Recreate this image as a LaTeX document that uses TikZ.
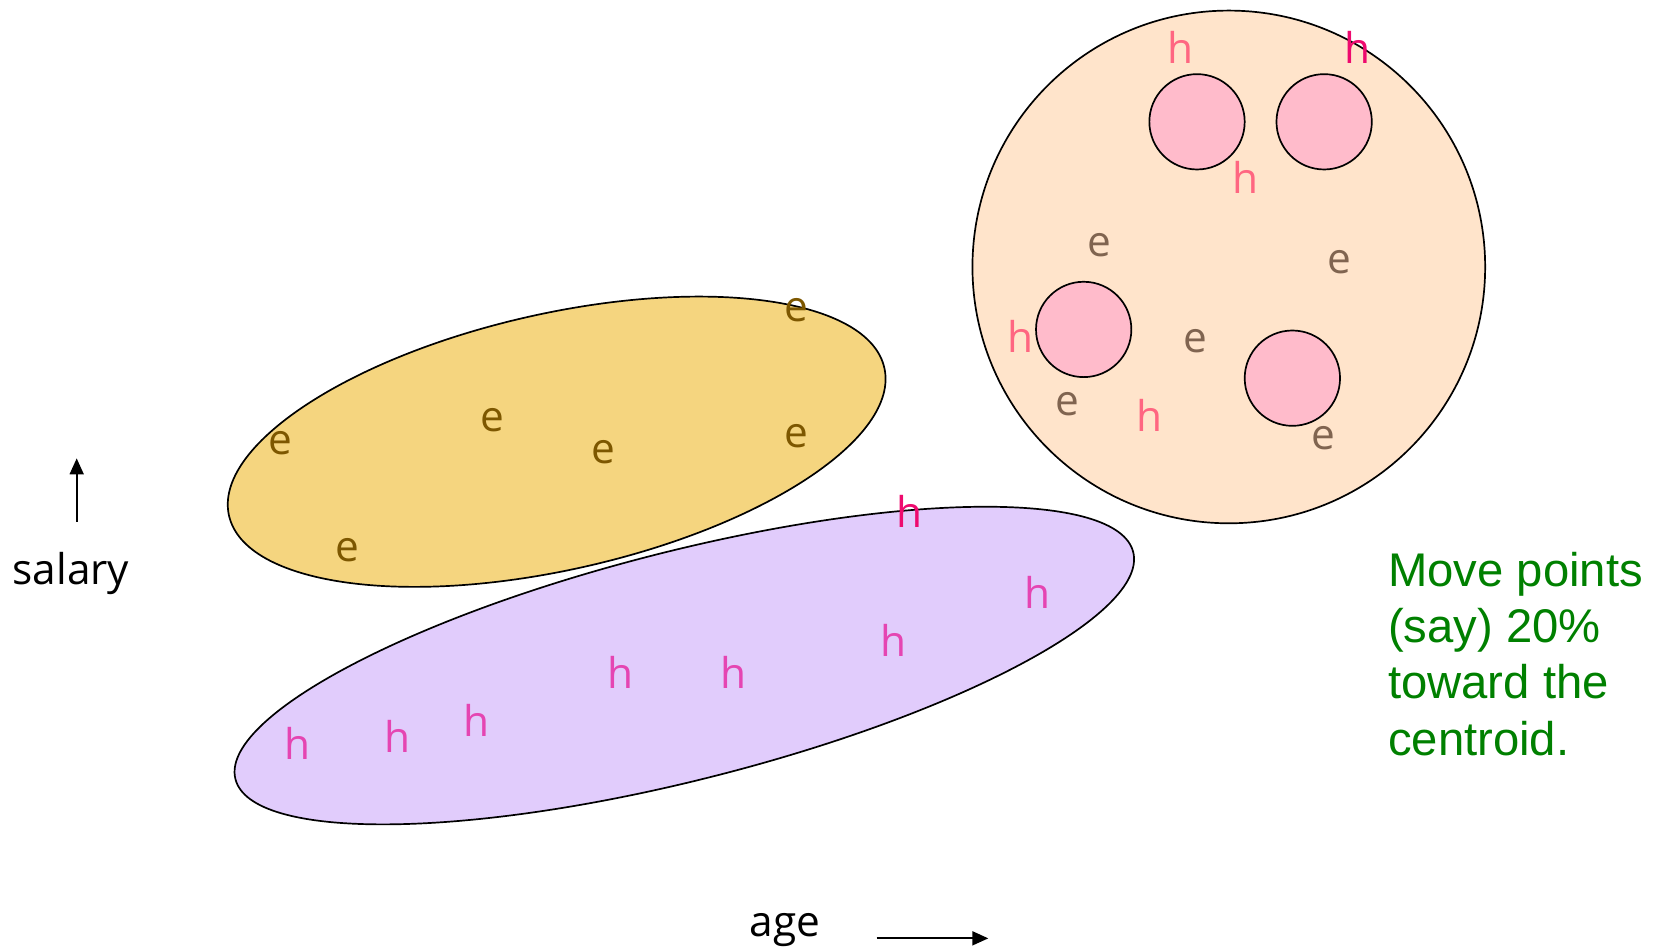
\documentclass[tikz,border=0pt]{standalone}
\usepackage{fontspec}
\newfontfamily\lblfont{Open Sans}
\newfontfamily\notefont{Liberation Sans}
\usetikzlibrary{arrows.meta}
\definecolor{peach}{HTML}{FFE4CB}
\definecolor{pinkfill}{HTML}{FFBBCB}
\definecolor{yellowfill}{HTML}{F5D57F}
\definecolor{lavender}{HTML}{E1CCFC}
\definecolor{ebrown}{HTML}{7D5700}
\definecolor{egrey}{HTML}{806450}
\definecolor{hsalmon}{HTML}{FF6681}
\definecolor{hmag}{HTML}{E545B2}
\definecolor{hred}{HTML}{EE0A6E}
\definecolor{notegreen}{HTML}{008000}
\begin{document}
\begin{tikzpicture}[x=0.5pt,y=-0.5pt,
  lbl/.style={inner sep=0pt, font=\lblfont\fontsize{20}{24}\selectfont},
  ey/.style={lbl, text=ebrown},
  ec/.style={lbl, text=egrey},
  hc/.style={lbl, text=hsalmon},
  hp/.style={lbl, text=hmag},
  hr/.style={lbl, text=hred},
  blob/.style={draw=black, line width=0.8pt},
  arr/.style={line width=1pt, -{Triangle[length=7.5pt,width=6.5pt]}}]

\useasboundingbox (0,0) rectangle (1568,897);

% big cluster
\draw[blob, fill=peach] (1160,252) circle [radius=242];
\draw[blob, fill=pinkfill] (1130,115) circle [radius=45];
\draw[blob, fill=pinkfill] (1250,115) circle [radius=45];
\draw[blob, fill=pinkfill] (1023,311) circle [radius=45];
\draw[blob, fill=pinkfill] (1220,357) circle [radius=45];

\node[hc] (ch1) at (1114.6,44.8) {h};
\node[hr] (ch2) at (1281.6,45.1) {h};
\node[hc] (ch3) at (1175.8,167.8) {h};
\node[hc] (ch4) at (963.6,317.6) {h};
\node[hc] (ch5) at (1084.7,392.6) {h};
\node[ec] (ce1) at (1037.5,231.6) {e};
\node[ec] (ce2) at (1264.6,247.5) {e};
\node[ec] (ce3) at (1128.6,322.4) {e};
\node[ec] (ce4) at (1007.5,381.4) {e};
\node[ec] (ce5) at (1249,413.3) {e};

% yellow ellipse
\draw[blob, fill=yellowfill, shift={(525.5,417)}, rotate=12.7] (0,0) ellipse [x radius=317.1, y radius=120.9];
\node[ey] (ye1) at (751.5,292.6) {e};
\node[ey] (ye2) at (265,418.5) {e};
\node[ey] (ye3) at (464.4,396.5) {e};
\node[ey] (ye4) at (570,426.4) {e};
\node[ey] (ye5) at (751.5,412.2) {e};
\node[ey] (ye6) at (327.6,519.2) {e};

% purple ellipse
\draw[blob, fill=lavender, shift={(646,628.3)}, rotate=14.2] (0,0) ellipse [x radius=437.1, y radius=108.1];
\node[hr] (ph1) at (858.5,483) {h};
\node[hp] (ph2) at (979.2,559.5) {h};
\node[hp] (ph3) at (843.5,604.2) {h};
\node[hp] (ph4) at (586,635) {h};
\node[hp] (ph5) at (692.3,635) {h};
\node[hp] (ph6) at (449.7,679.7) {h};
\node[hp] (ph7) at (375,694.8) {h};
\node[hp] (ph8) at (280.8,701.7) {h};

% axes
\coordinate (salbot) at (72.4,492.5);
\coordinate (saltop) at (72.4,432.7);
\draw[arr] (salbot) -- (saltop);
\node[lbl, anchor=base] (salary) at (66.9,551.5) {salary};

\node[lbl, anchor=base] (age) at (740.8,883.6) {age};
\coordinate (agestart) at (827.6,885.8);
\coordinate (ageend) at (933,885.8);
\draw[arr] (agestart) -- (ageend);

% note
\node[anchor=north west, inner sep=0pt, align=left, text=notegreen,
      font=\notefont\fontsize{22.3}{26.6}\selectfont] (note) at (1310,520.5)
  {Move points\\(say) 20\%\\toward the\\centroid.};
\end{tikzpicture}
\end{document}
